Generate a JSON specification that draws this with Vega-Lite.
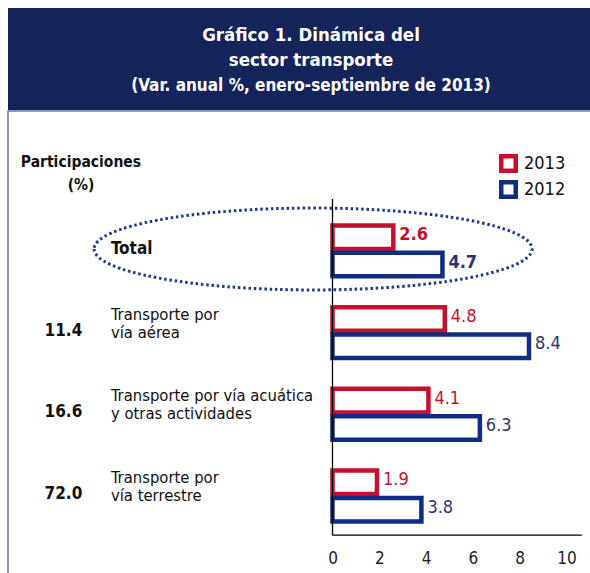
{
  "$schema": "https://vega.github.io/schema/vega-lite/v6.json",
  "background": "white",
  "padding": {"left": 7, "top": 8, "right": 0, "bottom": 0},
  "spacing": 0,
  "resolve": {"legend": {"stroke": "independent"}},
  "config": {"font": "DejaVu Sans Condensed", "concat": {"spacing": 0}},
  "datasets": {
    "bars": [
      {"category": "Total", "year": "2013", "value": 2.6},
      {"category": "Total", "year": "2012", "value": 4.7},
      {"category": "Transporte por vía aérea", "year": "2013", "value": 4.8},
      {"category": "Transporte por vía aérea", "year": "2012", "value": 8.4},
      {"category": "Transporte por vía acuática y otras actividades", "year": "2013", "value": 4.1},
      {"category": "Transporte por vía acuática y otras actividades", "year": "2012", "value": 6.3},
      {"category": "Transporte por vía terrestre", "year": "2013", "value": 1.9},
      {"category": "Transporte por vía terrestre", "year": "2012", "value": 3.8}
    ],
    "cats": [
      {"category": "Total", "label": "Total", "share": null},
      {"category": "Transporte por vía aérea", "label": "Transporte por\nvía aérea", "share": "11.4"},
      {"category": "Transporte por vía acuática y otras actividades", "label": "Transporte por vía acuática\ny otras actividades", "share": "16.6"},
      {"category": "Transporte por vía terrestre", "label": "Transporte por\nvía terrestre", "share": "72.0"}
    ],
    "title": [
      {"line": 1, "t": "Gráfico 1. Dinámica del"},
      {"line": 2, "t": "sector transporte"},
      {"line": 3, "t": "(Var. anual %, enero-septiembre de 2013)"}
    ]
  },
  "vconcat": [
    {
      "width": 583,
      "height": 102,
      "view": {"fill": "#15245b", "stroke": null},
      "data": {"name": "title"},
      "layer": [
        {
          "transform": [{"filter": "datum.line < 3"}],
          "mark": {"type": "text", "color": "white", "fontWeight": "bold", "fontSize": 18.5, "baseline": "middle", "align": "center", "dx": 11.5},
          "encoding": {
            "y": {"field": "line", "type": "ordinal", "scale": {"type": "point", "domain": [1, 2, 3], "padding": 1.125, "align": 0.52}, "axis": null},
            "text": {"field": "t", "type": "nominal"}
          }
        },
        {
          "transform": [{"filter": "datum.line === 3"}],
          "mark": {"type": "text", "color": "white", "fontWeight": "bold", "fontSize": 17, "baseline": "middle", "align": "center", "dx": 11.5},
          "encoding": {
            "y": {"field": "line", "type": "ordinal", "scale": {"type": "point", "domain": [1, 2, 3], "padding": 1.125, "align": 0.52}, "axis": null},
            "text": {"field": "t", "type": "nominal"}
          }
        }
      ]
    },
    {
      "width": 583,
      "height": 463,
      "view": {"fill": "white", "stroke": "#6b77a8", "strokeWidth": 1.5},
      "layer": [
        {
          "data": {"values": [{"category": "Total"}]},
          "mark": {"type": "point", "shape": "M-1,0A1,0.187,0,1,0,1,0A1,0.187,0,1,0,-1,0Z", "size": 191844, "filled": false, "stroke": "#1d3a8c", "strokeWidth": 3, "strokeDash": [2.5, 2.8], "opacity": 1},
          "encoding": {
            "x": {"datum": -0.83, "type": "quantitative", "scale": {"domain": [-13.87, 11.05], "nice": false, "zero": false}},
            "y": {"field": "category", "type": "nominal", "scale": {"domain": ["Total", "Transporte por vía aérea", "Transporte por vía acuática y otras actividades", "Transporte por vía terrestre"], "paddingInner": 0.33, "paddingOuter": 0.9985, "align": 0.678}, "axis": null}
          }
        },
        {
          "data": {"name": "bars"},
          "mark": {"type": "bar", "filled": false, "strokeWidth": 4.5, "height": {"band": 0.86}},
          "encoding": {
            "x": {"field": "value", "type": "quantitative", "scale": {"domain": [-13.87, 11.05], "nice": false, "zero": false},
                  "axis": {"values": [0, 2, 4, 6, 8, 10], "domain": false, "ticks": false, "tickSize": 0, "grid": false, "labelFontSize": 17, "labelColor": "#222", "labelPadding": 2, "offset": -26, "title": null}},
            "x2": {"datum": 0},
            "y": {"field": "category", "type": "nominal", "scale": {"domain": ["Total", "Transporte por vía aérea", "Transporte por vía acuática y otras actividades", "Transporte por vía terrestre"], "paddingInner": 0.33, "paddingOuter": 0.9985, "align": 0.678}, "axis": null},
            "yOffset": {"field": "year", "type": "nominal", "scale": {"domain": ["2013", "2012"], "paddingInner": 0, "paddingOuter": 0}},
            "stroke": {"field": "year", "type": "nominal", "scale": {"domain": ["2013", "2012"], "range": ["#c8102e", "#0f2d84"]},
                       "legend": {"orient": "top-right", "offset": 25, "padding": 0, "title": " ", "titleFontSize": 10, "titlePadding": 8, "symbolType": "square", "symbolSize": 210, "symbolStrokeWidth": 4.5, "symbolFillColor": "white", "labelFontSize": 18, "labelColor": "#111", "labelOffset": 6, "rowPadding": -9}}
          }
        },
        {
          "data": {"name": "bars"},
          "transform": [{"filter": "datum.category !== 'Total'"}],
          "mark": {"type": "text", "align": "left", "baseline": "middle", "dx": 6, "fontSize": 18},
          "encoding": {
            "x": {"field": "value", "type": "quantitative", "scale": {"domain": [-13.87, 11.05], "nice": false, "zero": false}},
            "y": {"field": "category", "type": "nominal", "scale": {"domain": ["Total", "Transporte por vía aérea", "Transporte por vía acuática y otras actividades", "Transporte por vía terrestre"], "paddingInner": 0.33, "paddingOuter": 0.9985, "align": 0.678}, "axis": null},
            "yOffset": {"field": "year", "type": "nominal", "scale": {"domain": ["2013", "2012"], "paddingInner": 0, "paddingOuter": 0}},
            "color": {"field": "year", "type": "nominal", "scale": {"domain": ["2013", "2012"], "range": ["#c8102e", "#2e3274"]}, "legend": null},
            "text": {"field": "value", "type": "quantitative", "format": ".1f"}
          }
        },
        {
          "data": {"name": "bars"},
          "transform": [{"filter": "datum.category === 'Total'"}],
          "mark": {"type": "text", "align": "left", "baseline": "middle", "dx": 6, "fontSize": 18, "fontWeight": "bold"},
          "encoding": {
            "x": {"field": "value", "type": "quantitative", "scale": {"domain": [-13.87, 11.05], "nice": false, "zero": false}},
            "y": {"field": "category", "type": "nominal", "scale": {"domain": ["Total", "Transporte por vía aérea", "Transporte por vía acuática y otras actividades", "Transporte por vía terrestre"], "paddingInner": 0.33, "paddingOuter": 0.9985, "align": 0.678}, "axis": null},
            "yOffset": {"field": "year", "type": "nominal", "scale": {"domain": ["2013", "2012"], "paddingInner": 0, "paddingOuter": 0}},
            "color": {"field": "year", "type": "nominal", "scale": {"domain": ["2013", "2012"], "range": ["#c8102e", "#2e3274"]}, "legend": null},
            "text": {"field": "value", "type": "quantitative", "format": ".1f"}
          }
        },
        {
          "data": {"name": "cats"},
          "transform": [{"filter": "datum.category !== 'Total'"}],
          "mark": {"type": "text", "align": "left", "baseline": "middle", "dy": -16, "fontSize": 16.5, "lineBreak": "\n", "lineHeight": 18, "color": "#111"},
          "encoding": {
            "x": {"datum": -9.47, "type": "quantitative", "scale": {"domain": [-13.87, 11.05], "nice": false, "zero": false}},
            "y": {"field": "category", "type": "nominal", "scale": {"domain": ["Total", "Transporte por vía aérea", "Transporte por vía acuática y otras actividades", "Transporte por vía terrestre"], "paddingInner": 0.33, "paddingOuter": 0.9985, "align": 0.678}, "axis": null},
            "text": {"field": "label", "type": "nominal"}
          }
        },
        {
          "data": {"name": "cats"},
          "transform": [{"filter": "datum.category === 'Total'"}],
          "mark": {"type": "text", "align": "left", "baseline": "middle", "fontSize": 17, "fontWeight": "bold", "color": "#111"},
          "encoding": {
            "x": {"datum": -9.47, "type": "quantitative", "scale": {"domain": [-13.87, 11.05], "nice": false, "zero": false}},
            "y": {"field": "category", "type": "nominal", "scale": {"domain": ["Total", "Transporte por vía aérea", "Transporte por vía acuática y otras actividades", "Transporte por vía terrestre"], "paddingInner": 0.33, "paddingOuter": 0.9985, "align": 0.678}, "axis": null},
            "text": {"field": "label", "type": "nominal"}
          }
        },
        {
          "data": {"name": "cats"},
          "transform": [{"filter": "datum.share !== null"}],
          "mark": {"type": "text", "align": "center", "baseline": "middle", "fontSize": 17, "fontWeight": "bold", "color": "#111"},
          "encoding": {
            "x": {"datum": -11.5, "type": "quantitative", "scale": {"domain": [-13.87, 11.05], "nice": false, "zero": false}},
            "y": {"field": "category", "type": "nominal", "scale": {"domain": ["Total", "Transporte por vía aérea", "Transporte por vía acuática y otras actividades", "Transporte por vía terrestre"], "paddingInner": 0.33, "paddingOuter": 0.9985, "align": 0.678}, "axis": null},
            "text": {"field": "share", "type": "nominal"}
          }
        },
        {
          "data": {"values": [{"category": "Total", "t": "Participaciones\n(%)"}]},
          "mark": {"type": "text", "align": "center", "baseline": "middle", "fontSize": 15.5, "fontWeight": "bold", "color": "#111", "lineBreak": "\n", "lineHeight": 23},
          "encoding": {
            "x": {"datum": -10.75, "type": "quantitative", "scale": {"domain": [-13.87, 11.05], "nice": false, "zero": false}},
            "y": {"field": "category", "type": "nominal", "bandPosition": -1.09, "scale": {"domain": ["Total", "Transporte por vía aérea", "Transporte por vía acuática y otras actividades", "Transporte por vía terrestre"], "paddingInner": 0.33, "paddingOuter": 0.9985, "align": 0.678}, "axis": null},
            "text": {"field": "t", "type": "nominal"}
          }
        },
        {
          "data": {"values": [{"from": "Total", "to": "Transporte por vía terrestre"}]},
          "mark": {"type": "rule", "color": "black", "strokeWidth": 1.3},
          "encoding": {
            "x": {"datum": 0, "type": "quantitative", "scale": {"domain": [-13.87, 11.05], "nice": false, "zero": false}},
            "y": {"field": "from", "type": "nominal", "bandPosition": -0.414, "scale": {"domain": ["Total", "Transporte por vía aérea", "Transporte por vía acuática y otras actividades", "Transporte por vía terrestre"], "paddingInner": 0.33, "paddingOuter": 0.9985, "align": 0.678}, "axis": null},
            "y2": {"field": "to", "bandPosition": 1.25}
          }
        },
        {
          "data": {"values": [{"at": "Transporte por vía terrestre"}]},
          "mark": {"type": "rule", "color": "black", "strokeWidth": 1.3},
          "encoding": {
            "x": {"datum": 0, "type": "quantitative", "scale": {"domain": [-13.87, 11.05], "nice": false, "zero": false}},
            "x2": {"datum": 10.66},
            "y": {"field": "at", "type": "nominal", "bandPosition": 1.25, "scale": {"domain": ["Total", "Transporte por vía aérea", "Transporte por vía acuática y otras actividades", "Transporte por vía terrestre"], "paddingInner": 0.33, "paddingOuter": 0.9985, "align": 0.678}, "axis": null}
          }
        }
      ]
    }
  ]
}
